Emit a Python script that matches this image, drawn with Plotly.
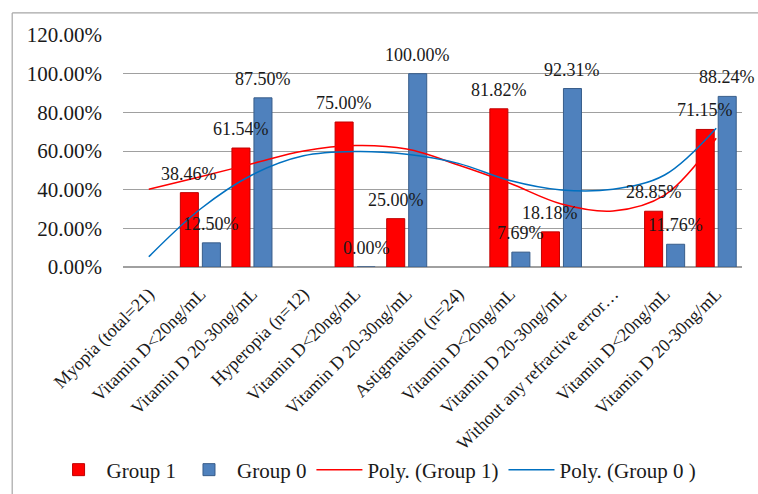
import plotly.graph_objects as go

categories = ["Myopia (total=21)", "Vitamin D<20ng/mL", "Vitamin D 20-30ng/mL",
              "Hyperopia (n=12)", "Vitamin D<20ng/mL", "Vitamin D 20-30ng/mL",
              "Astigmatism (n=24)", "Vitamin D<20ng/mL", "Vitamin D 20-30ng/mL",
              "Without any refractive error…", "Vitamin D<20ng/mL", "Vitamin D 20-30ng/mL"]
group1 = [None, 38.46, 61.54, None, 75.00, 25.00, None, 81.82, 18.18, None, 28.85, 71.15]
group0 = [None, 12.50, 87.50, None, 0.00, 100.00, None, 7.69, 92.31, None, 11.76, 88.24]
trend_g1 = [40.2, 46.7, 53.4, 60.0, 62.8, 61.0, 52.8, 43.3, 32.6, 29.0, 37.2, 66.6]
trend_g0 = [5.3, 30.0, 47.6, 57.5, 59.7, 58.3, 53.6, 44.7, 39.8, 40.2, 47.6, 71.8]
y_ticks = [0, 20, 40, 60, 80, 100, 120]
y_tick_text = ["0.00%", "20.00%", "40.00%", "60.00%", "80.00%", "100.00%", "120.00%"]

FONT = "Liberation Serif"
xs = list(range(len(categories)))

fig = go.Figure()
fig.add_trace(go.Bar(x=xs, y=group1, name="Group 1",
                     marker=dict(color="#FF0000", line=dict(color="#C00000", width=1))))
fig.add_trace(go.Bar(x=xs, y=group0, name="Group 0",
                     marker=dict(color="#4F81BD", line=dict(color="#385D8A", width=1))))
fig.add_trace(go.Scatter(x=xs, y=trend_g1, name="Poly. (Group 1)", mode="lines",
                         line=dict(color="#FF0000", width=1.5, shape="spline")))
fig.add_trace(go.Scatter(x=xs, y=trend_g0, name="Poly. (Group 0 )", mode="lines",
                         line=dict(color="#0070C0", width=1.5, shape="spline")))

annotations = []
for series, shift in ((group1, -11), (group0, 11)):
    for i, v in enumerate(series):
        if v is None:
            continue
        annotations.append(dict(x=i, y=v, xref="x", yref="y", text=f"{v:.2f}%",
                                showarrow=False, xshift=shift, yshift=19,
                                yanchor="middle", xanchor="center",
                                font=dict(family=FONT, size=18, color="#1a1a1a")))

fig.update_layout(
    width=758, height=494,
    margin=dict(l=123, r=16, t=35, b=227, autoexpand=False),
    paper_bgcolor="white", plot_bgcolor="white",
    barmode="group", bargap=0.147, bargroupgap=0.18,
    font=dict(family=FONT, color="#1a1a1a"),
    annotations=annotations,
    legend=dict(orientation="h", x=-0.117, y=-0.875, xanchor="left", yanchor="middle",
                itemwidth=46, bgcolor="rgba(0,0,0,0)",
                font=dict(family=FONT, size=21, color="#1a1a1a"), traceorder="normal"),
    shapes=[
        dict(type="line", xref="paper", yref="paper", x0=-0.179, x1=1.1, y0=1.095, y1=1.095,
             line=dict(color="#A6A6A6", width=1.2)),
        dict(type="line", xref="paper", yref="paper", x0=-0.179, x1=-0.179, y0=1.095, y1=-1.2,
             line=dict(color="#A6A6A6", width=1.2)),
    ],
)
fig.update_xaxes(range=[-0.5, 11.5], tickmode="array", tickvals=xs, ticktext=categories,
                 tickangle=-45, showgrid=False, showline=False, zeroline=False,
                 automargin=False, ticklabelstandoff=12,
                 tickfont=dict(family=FONT, size=18, color="#1a1a1a"))
fig.update_yaxes(range=[0, 120], tickmode="array", tickvals=y_ticks, ticktext=y_tick_text,
                 showgrid=True, gridcolor="#A0A0A0", gridwidth=1, zeroline=True,
                 zerolinecolor="#A0A0A0", showline=False, ticklabelstandoff=20,
                 automargin=False,
                 tickfont=dict(family=FONT, size=21, color="#1a1a1a"))

fig.write_html("out.html")
